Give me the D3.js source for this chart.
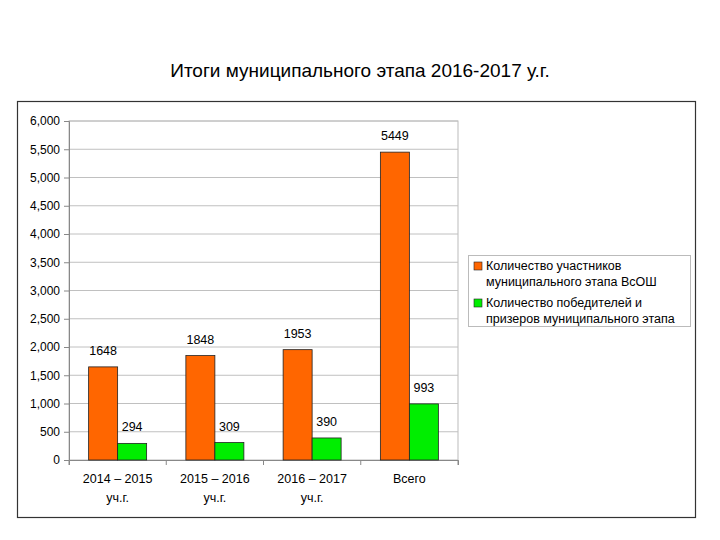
<!DOCTYPE html>
<html><head><meta charset="utf-8">
<script src="https://cdn.jsdelivr.net/npm/d3@7"></script>
<style>body{margin:0;background:#fff}text{font-family:"Liberation Sans",Arial,sans-serif}</style>
</head><body>
<svg id="chart" width="720" height="540"></svg>
<script>
// values
var categories = [["2014 – 2015","уч.г."],["2015 – 2016","уч.г."],["2016 – 2017","уч.г."],["Всего"]]
var participants = [1648, 1848, 1953, 5449]
var winners = [294, 309, 390, 993]
var series_names = [["Количество участников","муниципального этапа ВсОШ"],["Количество победителей и","призеров муниципального этапа"]]
var colors = ["#ff6600", "#00ee00"]
var yTicks = d3.range(0, 6001, 500)

var svg = d3.select("#chart")

svg.append("text").attr("x", 360).attr("y", 77).attr("text-anchor", "middle")
    .style("font-size", "19px").text("Итоги муниципального этапа 2016-2017 у.г.")

svg.append("rect").attr("x", 17.5).attr("y", 101.5).attr("width", 678).attr("height", 416)
    .attr("fill", "none").attr("stroke", "#333").attr("stroke-width", 1.2)

var pl = 69, pr = 458, pt = 121, pb = 460
var y = d3.scaleLinear().domain([0, 6000]).range([pb, pt])
var x = d3.scaleBand().domain(d3.range(categories.length)).range([pl, pr])

// plot frame + grid
svg.append("rect").attr("x", pl).attr("y", pt).attr("width", pr - pl).attr("height", pb - pt)
    .attr("fill", "none").attr("stroke", "#bbb")
svg.append("g").selectAll("line").data(yTicks.slice(1)).join("line")
    .attr("x1", pl).attr("x2", pr).attr("y1", d => y(d)).attr("y2", d => y(d))
    .attr("stroke", "#c0c0c0")

var yAxis = svg.append("g").attr("transform", `translate(${pl},0)`)
    .call(d3.axisLeft(y).tickValues(yTicks).tickSize(5).tickPadding(4))
yAxis.selectAll("text").style("font-size", "12px").attr("fill", "#000")
yAxis.selectAll("line,path").attr("stroke", "#888")

var xAxis = svg.append("g").attr("transform", `translate(0,${pb})`)
    .call(d3.axisBottom(x).tickSize(5).tickFormat(""))
xAxis.selectAll(".tick line").attr("transform", `translate(${-x.bandwidth()/2},0)`).attr("stroke", "#888")
xAxis.select("path").attr("stroke", "#888")
svg.append("line").attr("x1", pr).attr("x2", pr).attr("y1", pb).attr("y2", pb + 5).attr("stroke", "#888")

svg.append("g").selectAll("text").data(categories).join("text")
    .attr("x", (d, i) => x(i) + x.bandwidth() / 2).attr("y", 483)
    .attr("text-anchor", "middle").style("font-size", "12.5px")
    .selectAll("tspan").data(d => d).join("tspan")
    .attr("x", function(){ return this.parentNode.getAttribute("x") })
    .attr("dy", (d, i) => i ? 19 : 0).text(d => d)

var bw = 29
var data = [participants, winners]
data.forEach(function(vals, s){
    var g = svg.append("g")
    g.selectAll("rect").data(vals).join("rect")
        .attr("x", (d, i) => x(i) + x.bandwidth() / 2 - bw + s * bw)
        .attr("y", d => y(d)).attr("width", bw).attr("height", d => pb - y(d))
        .attr("fill", colors[s]).attr("stroke", "#222").attr("stroke-width", 0.8)
    g.selectAll("text").data(vals).join("text")
        .attr("x", (d, i) => x(i) + x.bandwidth() / 2 - bw / 2 + s * bw)
        .attr("y", d => y(d) - 12).attr("text-anchor", "middle")
        .style("font-size", "12.5px").text(d => d)
})

// legend
var lg = svg.append("g")
lg.append("rect").attr("x", 468.5).attr("y", 255.5).attr("width", 222).attr("height", 71)
    .attr("fill", "#fff").attr("stroke", "#bbb")
series_names.forEach(function(lines, s){
    var ly = 270 + s * 37
    lg.append("rect").attr("x", 474).attr("y", ly - 8).attr("width", 8).attr("height", 8)
        .attr("fill", colors[s]).attr("stroke", "#222").attr("stroke-width", 0.6)
    lines.forEach(function(t, k){
        lg.append("text").attr("x", 486).attr("y", ly + k * 16).style("font-size", "12.5px").text(t)
    })
})
</script>
</body></html>
